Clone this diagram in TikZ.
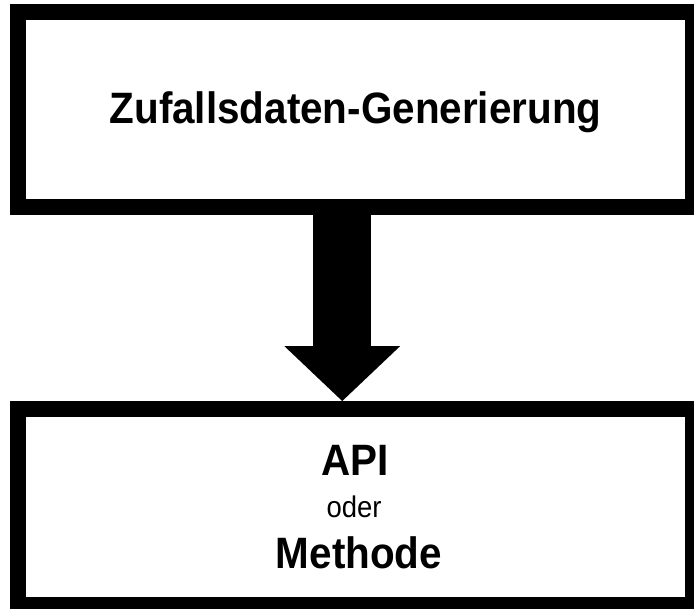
\documentclass[tikz,border=0pt]{standalone}
\usepackage{fontspec}
\setmainfont{Liberation Sans}[FakeStretch=0.92]
\usetikzlibrary{arrows.meta}

\tikzset{
	blockbox/.style={draw=black, line width=0.32cm, minimum width=13.51cm, inner sep=0pt},
	bigtext/.style={font=\bfseries\fontsize{25pt}{28pt}\selectfont},
	smalltext/.style={font=\fontsize{17pt}{19pt}\selectfont}
}

\begin{document}
\begin{tikzpicture}[x=0.02cm, y=-0.02cm]
		\useasboundingbox (0,0) rectangle (694,609);
		\clip (0,0) rectangle (694,609);
		
		% Boxes
		\node[blockbox, minimum height=3.894cm] (gen) at (355.25,109.7) {};
		\node[blockbox, minimum height=3.92cm] (api) at (355.25,507) {};
		
		\node[bigtext, anchor=base] (genname) at (355.5,123) {Zufallsdaten-Generierung};
		\node[bigtext, anchor=base] (apiname) at (355,475) {API};
		\node[smalltext, anchor=base] (oder) at (354,517) {oder};
		\node[bigtext, anchor=base] (methode) at (359,568) {Methode};
		
		% Arrow
		\draw[line width=1.16cm, -{Triangle[length=1.1cm, width=2.32cm, line width=0pt]}] ([xshift=-0.26cm]gen.south) -- ([xshift=-0.26cm]api.north);
		
	\end{tikzpicture}
\end{document}
